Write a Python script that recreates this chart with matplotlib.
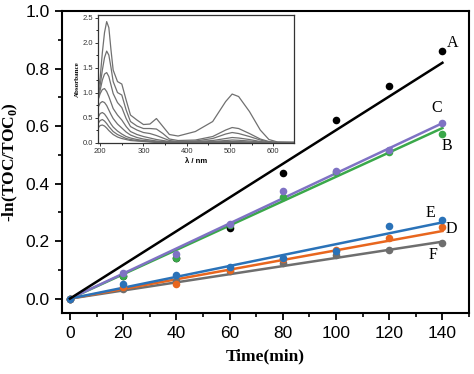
import matplotlib
matplotlib.use("Agg")
from matplotlib import pyplot as plt
from matplotlib.ticker import MultipleLocator
import numpy as np

# kinetics: -ln(TOC/TOC0) against time
time = [0, 20, 40, 60, 80, 100, 120, 140]
val_A = [0, 0.08, 0.14, 0.245, 0.437, 0.62, 0.74, 0.862]
val_B = [0, 0.08, 0.14, 0.255, 0.355, 0.44, 0.51, 0.572]
val_C = [0, 0.088, 0.155, 0.26, 0.375, 0.445, 0.515, 0.612]
val_D = [0, 0.04, 0.05, 0.10, 0.138, 0.17, 0.21, 0.25]
val_E = [0, 0.05, 0.082, 0.11, 0.14, 0.165, 0.251, 0.274]
val_F = [0, 0.035, 0.06, 0.095, 0.125, 0.153, 0.168, 0.193]

# slopes of the fitted lines (per min)
slopes = {"A": 0.82 / 140, "B": 0.593 / 140, "C": 0.61 / 140,
          "D": 0.235 / 140, "E": 0.265 / 140, "F": 0.198 / 140}

labels = ["A", "B", "C", "D", "E", "F"]
label_pos = {"A": (144, 0.889), "B": (141.7, 0.531), "C": (138, 0.663),
             "D": (143.3, 0.243), "E": (135.4, 0.298), "F": (136.5, 0.153)}

colors = {"A": "#000000", "B": "#3aa84a", "C": "#7f72c4",
          "D": "#e8661e", "E": "#2a72b8", "F": "#6e6e6e"}

# UV-vis spectra for the inset
wl = [195, 200, 205, 210, 215, 220, 225, 230, 240, 250, 260, 270, 285, 300,
      315, 330, 345, 360, 380, 420, 460, 490, 505, 520, 545, 570, 590, 610, 650]
spec1 = [1.0, 1.3, 1.8, 2.2, 2.42, 2.3, 1.85, 1.45, 1.22, 1.17, 0.85, 0.55, 0.45, 0.36,
         0.37, 0.48, 0.32, 0.16, 0.13, 0.22, 0.42, 0.82, 0.97, 0.92, 0.62, 0.25, 0.06, 0.01, 0.0]
spec2 = [0.9, 1.15, 1.45, 1.7, 1.83, 1.75, 1.5, 1.22, 1.0, 0.95, 0.65, 0.42, 0.33, 0.28,
         0.28, 0.27, 0.18, 0.07, 0.04, 0.05, 0.12, 0.25, 0.3, 0.28, 0.18, 0.07, 0.02, 0.0, 0.0]
spec3 = [0.85, 1.05, 1.25, 1.37, 1.4, 1.32, 1.15, 0.98, 0.8, 0.7, 0.48, 0.32, 0.25, 0.2,
         0.18, 0.14, 0.09, 0.04, 0.02, 0.03, 0.08, 0.17, 0.2, 0.18, 0.12, 0.05, 0.01, 0.0, 0.0]
spec4 = [0.85, 0.98, 1.06, 1.08, 1.02, 0.92, 0.8, 0.68, 0.55, 0.45, 0.32, 0.22, 0.16, 0.12,
         0.09, 0.06, 0.04, 0.02, 0.01, 0.02, 0.04, 0.08, 0.1, 0.09, 0.06, 0.02, 0.0, 0.0, 0.0]
spec5 = [0.7, 0.79, 0.82, 0.8, 0.74, 0.65, 0.56, 0.48, 0.37, 0.29, 0.21, 0.15, 0.1, 0.07,
         0.05, 0.03, 0.02, 0.01, 0.0, 0.01, 0.02, 0.04, 0.05, 0.045, 0.03, 0.01, 0.0, 0.0, 0.0]
spec6 = [0.5, 0.58, 0.6, 0.57, 0.51, 0.44, 0.37, 0.31, 0.23, 0.17, 0.12, 0.09, 0.06, 0.04,
         0.03, 0.02, 0.01, 0.0, 0.0, 0.0, 0.01, 0.02, 0.02, 0.02, 0.01, 0.0, 0.0, 0.0, 0.0]
spec7 = [0.38, 0.44, 0.46, 0.43, 0.38, 0.32, 0.27, 0.22, 0.16, 0.12, 0.08, 0.06, 0.04, 0.03,
         0.02, 0.01, 0.0, 0.0, 0.0, 0.0, 0.0, 0.01, 0.01, 0.01, 0.0, 0.0, 0.0, 0.0, 0.0]
spec8 = [0.29, 0.34, 0.35, 0.33, 0.29, 0.24, 0.2, 0.16, 0.11, 0.08, 0.06, 0.04, 0.03, 0.02,
         0.01, 0.0, 0.0, 0.0, 0.0, 0.0, 0.0, 0.0, 0.0, 0.0, 0.0, 0.0, 0.0, 0.0, 0.0]
spectra = [spec1, spec2, spec3, spec4, spec5, spec6, spec7, spec8]

data = {"A": val_A, "B": val_B, "C": val_C, "D": val_D, "E": val_E, "F": val_F}

plt.rcParams["font.family"] = "Liberation Sans"
plt.rcParams["mathtext.fontset"] = "custom"
plt.rcParams["mathtext.bf"] = "Liberation Serif:bold"
plt.rcParams["mathtext.rm"] = "Liberation Serif"

fig = plt.figure(figsize=(4.74, 3.74), dpi=100)
ax = fig.add_axes([0.1308, 0.1631, 0.8587, 0.8075])

# A first so its early points hide under the others
draw_order = ["A", "B", "C", "F", "D", "E"]
for k in draw_order:
    ax.scatter(time, data[k], s=30, color=colors[k], zorder=3, linewidths=0)
    ax.plot([0, 140], [0, slopes[k] * 140], color=colors[k], lw=1.8,
            zorder=4 if k == "A" else 2)

for k in labels:
    x, y = label_pos[k]
    ax.text(x, y, k, family="Liberation Serif", fontsize=11.5,
            ha="center", va="center")

ax.set_xlim(-3, 150)
ax.set_ylim(-0.05, 1.0)
ax.xaxis.set_major_locator(MultipleLocator(20))
ax.xaxis.set_minor_locator(MultipleLocator(10))
ax.yaxis.set_minor_locator(MultipleLocator(0.1))
ax.set_yticks([0.0, 0.2, 0.4, 0.6, 0.8, 1.0])
ax.set_yticklabels(["0.0", "0.2", "0.4", "0.6", "0.8", "1.0"])
ax.tick_params(which="major", direction="out", length=5, width=1.3,
               labelsize=12.5, pad=4)
ax.tick_params(which="minor", direction="out", length=3, width=1.2)
ax.tick_params(top=False, right=False, which="both")
for sp in ax.spines.values():
    sp.set_linewidth(1.5)

ax.set_xlabel("Time(min)", family="Liberation Serif", fontweight="bold",
              fontsize=12.5, labelpad=6)
ax.set_ylabel(r"-ln(TOC/TOC$_\mathbf{0}$)", family="Liberation Serif",
              fontweight="bold", fontsize=12.5, labelpad=4)

# inset spectra
ins = fig.add_axes([0.2068, 0.6176, 0.4135, 0.342])
for s in spectra:
    ins.plot(wl, s, color="#707070", lw=0.9)
ins.set_xlim(195, 648)
ins.set_ylim(-0.01, 2.55)
ins.xaxis.set_major_locator(MultipleLocator(100))
ins.xaxis.set_minor_locator(MultipleLocator(50))
ins.yaxis.set_major_locator(MultipleLocator(0.5))
ins.yaxis.set_minor_locator(MultipleLocator(0.25))
ins.tick_params(which="major", direction="out", length=2, width=0.7,
                labelsize=5.5, pad=1.5, colors="#333333")
ins.tick_params(which="minor", direction="out", length=1.2, width=0.6)
for sp in ins.spines.values():
    sp.set_linewidth(0.9)
    sp.set_color("#333333")
ins.set_xlabel("λ / nm", fontsize=5.5, fontweight="bold", labelpad=2)
ins.set_ylabel("Absorbance", family="Liberation Serif", fontsize=5,
               fontweight="bold", labelpad=2)

fig.savefig("out.png", dpi=100)
